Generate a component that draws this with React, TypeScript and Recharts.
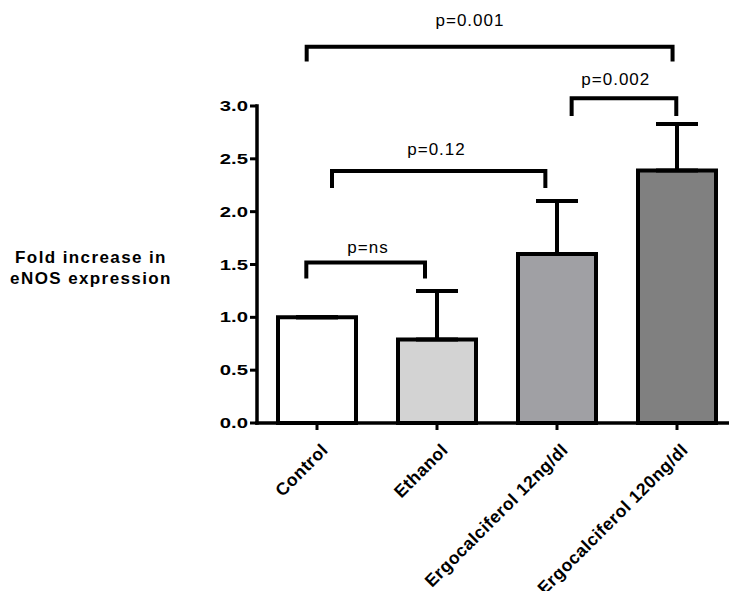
import React from 'react';
import {
  BarChart,
  Bar,
  Cell,
  XAxis,
  YAxis,
  ErrorBar,
  ReferenceArea,
  ReferenceDot,
} from 'recharts';

// ---- data ----
const categories = ['Control', 'Ethanol', 'Ergocalciferol 12ng/dl', 'Ergocalciferol 120ng/dl'];
const foldIncrease = [1.0, 0.79, 1.6, 2.39];
const errorUpper = [0, 0.46, 0.5, 0.44];
const barColors = ['#ffffff', '#d3d3d3', '#a0a0a4', '#808080'];
const yTicks = [0, 0.5, 1.0, 1.5, 2.0, 2.5, 3.0];

// significance brackets (x in category index units, y in fold units)
const bracketLabels = ['p=ns', 'p=0.12', 'p=0.002', 'p=0.001'];
const bracketLeft = [-0.089, 0.125, 2.122, -0.086];
const bracketRight = [0.9, 1.903, 2.994, 2.963];
const bracketTop = [1.519, 2.385, 3.073, 3.561];
const bracketBottom = [1.368, 2.224, 2.905, 3.421];
const labelX = [0.425, 0.996, 2.49, 1.275];
const labelY = [1.606, 2.536, 3.199, 3.757];

const FONT = '"Liberation Sans", Arial, Helvetica, sans-serif';

const data = categories.map((c, i) => ({
  pos: i,
  name: c,
  value: foldIncrease[i],
  err: [0, errorUpper[i]],
}));

const YTick = (props: any) => {
  const { x, y, payload } = props;
  return (
    <g transform={`translate(${x},${y})`}>
      <text
        transform="scale(1.45,1)"
        textAnchor="end"
        dy="0.36em"
        fontSize={14}
        fontWeight="bold"
        fill="#000"
        fontFamily={FONT}
      >
        {Number(payload.value).toFixed(1)}
      </text>
    </g>
  );
};

const XTick = (props: any) => {
  const { x, y, payload } = props;
  return (
    <g transform={`translate(${x + 12},${y + 19})`}>
      <text
        transform="rotate(-45)"
        textAnchor="end"
        fontSize={17.5}
        fontWeight="bold"
        letterSpacing={0.5}
        fill="#000"
        fontFamily={FONT}
      >
        {categories[payload.value]}
      </text>
    </g>
  );
};

const YLabel = (props: any) => {
  const vb = props.viewBox || { x: 0, y: 0, width: 0, height: 0 };
  const cx = vb.x + 91;
  const cy = vb.y + vb.height / 2;
  return (
    <text
      textAnchor="middle"
      fontSize={17}
      fontWeight="bold"
      letterSpacing={1.4}
      fill="#000"
      fontFamily={FONT}
    >
      <tspan x={cx} y={cy - 2}>Fold increase in</tspan>
      <tspan x={cx} y={cy + 19}>eNOS expression</tspan>
    </text>
  );
};

const bracketShape = (p: any) => (
  <path
    d={`M${p.x},${p.y + p.height} V${p.y} H${p.x + p.width} V${p.y + p.height}`}
    fill="none"
    stroke="#000"
    strokeWidth={4}
    strokeLinejoin="miter"
  />
);

export default function App() {
  return (
    <div
      style={{
        position: 'absolute',
        left: 0,
        top: 0,
        width: 729,
        height: 591,
        overflow: 'hidden',
        background: '#fff',
      }}
    >
      <BarChart
        width={740}
        height={591}
        data={data}
        margin={{ top: 106, right: 3, bottom: 0, left: 0 }}
      >
        <XAxis
          type="number"
          dataKey="pos"
          domain={[-0.5, 3.5]}
          ticks={[0, 1, 2, 3]}
          interval={0}
          height={168}
          tickSize={7}
          tickMargin={2}
          axisLine={{ stroke: '#000', strokeWidth: 3.5, strokeLinecap: 'square' }}
          tickLine={{ stroke: '#000', strokeWidth: 3 }}
          tick={<XTick />}
        />
        <YAxis
          type="number"
          domain={[0, 3]}
          ticks={yTicks}
          interval={0}
          width={257}
          tickSize={7}
          tickMargin={2}
          axisLine={{ stroke: '#000', strokeWidth: 3.5, strokeLinecap: 'square' }}
          tickLine={{ stroke: '#000', strokeWidth: 3 }}
          tick={<YTick />}
          label={<YLabel />}
        />
        <Bar
          dataKey="value"
          barSize={78}
          stroke="#000"
          strokeWidth={4}
          isAnimationActive={false}
        >
          {data.map((d, i) => (
            <Cell key={d.name} fill={barColors[i]} />
          ))}
          <ErrorBar
            dataKey="err"
            direction="y"
            width={21}
            stroke="#000"
            strokeWidth={4}
            isAnimationActive={false}
          />
        </Bar>
        {bracketLabels.map((lab, i) => (
          <ReferenceArea
            key={`br-${lab}`}
            x1={bracketLeft[i]}
            x2={bracketRight[i]}
            y1={bracketBottom[i]}
            y2={bracketTop[i]}
            ifOverflow="visible"
            shape={bracketShape}
          />
        ))}
        {bracketLabels.map((lab, i) => (
          <ReferenceDot
            key={`lb-${lab}`}
            x={labelX[i]}
            y={labelY[i]}
            r={0}
            ifOverflow="visible"
            shape={(p: any) => (
              <text
                x={p.cx}
                y={p.cy}
                textAnchor="middle"
                fontSize={17}
                letterSpacing={1}
                fill="#000"
                fontFamily={FONT}
              >
                {lab}
              </text>
            )}
          />
        ))}
      </BarChart>
    </div>
  );
}
